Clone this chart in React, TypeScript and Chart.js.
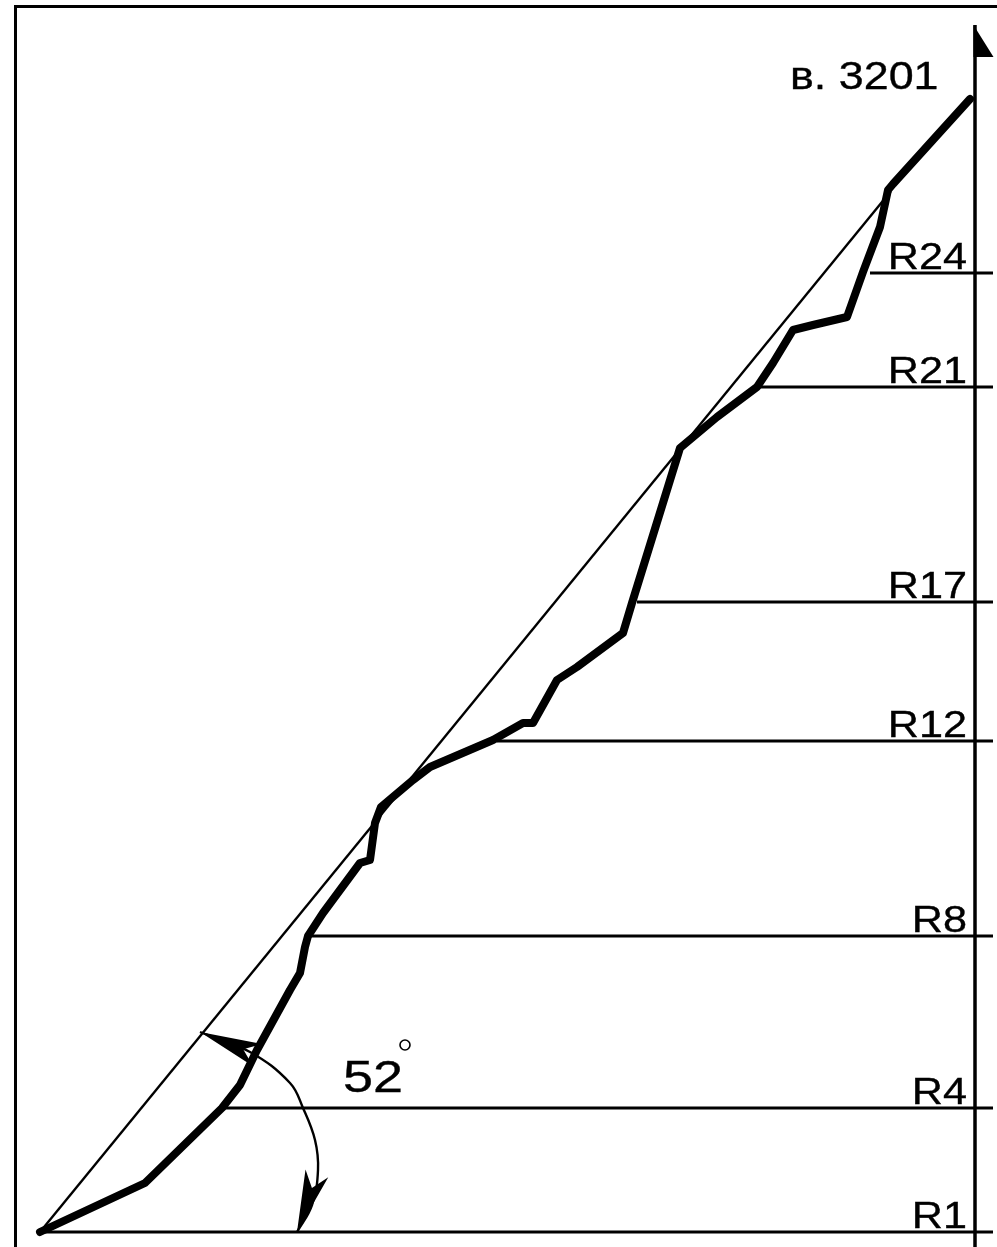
import { useEffect, useRef } from 'react';
import { Chart, registerables } from 'chart.js';

Chart.register(...registerables);

// Profile of the route (horizontal distance, height above R1)
const profileX = [0, 105, 182, 200, 217, 250, 260, 265, 268, 283, 320, 330, 335, 341, 373, 390, 453, 483, 493, 517, 537, 583, 592, 640, 677, 717, 733, 753, 773, 807, 823, 840, 848, 853, 930];
const profileY = [0, 49, 124, 147, 182, 242, 259, 285, 296, 319, 369, 372, 409, 425, 452, 465, 492, 509, 509, 552, 565, 599, 629, 784, 815, 845, 869, 902, 907, 915, 960, 1005, 1042, 1048, 1133];

// Mean slope line (52°)
const slopeX = [0, 851];
const slopeY = [0, 1041];

// Angle dimension arc
const arcX = [160, 210, 250, 263, 275, 278, 272, 257];
const arcY = [200, 180, 149, 124, 92, 62, 27, 0];

// Belay stations
const levelLabels = ['R1', 'R4', 'R8', 'R12', 'R17', 'R21', 'R24'];
const levelHeights = [0, 124, 296, 491, 630, 845, 959];
const levelStartX = [0, 182, 270, 457, 597, 717, 830];
const levelEndX = 953;

// Vertical axis
const axisX = 935;
const axisBottom = -15;
const axisTop = 1207;

const summitLabel = 'в. 3201';
const angleLabel = '52';

const pts = (xs: number[], ys: number[]) => xs.map((x, i) => ({ x, y: ys[i] }));

export default function App() {
  const ref = useRef<HTMLCanvasElement>(null);

  useEffect(() => {
    const drawText = (ctx: any, text: string, x: number, y: number, size: number, sx: number, align: string) => {
      ctx.save();
      ctx.translate(x, y);
      ctx.scale(sx, 1);
      ctx.font = size + 'px "Liberation Sans", Arial, sans-serif';
      ctx.textAlign = align;
      ctx.textBaseline = 'alphabetic';
      ctx.lineWidth = 0.35;
      ctx.fillText(text, 0, 0);
      ctx.strokeText(text, 0, 0);
      ctx.restore();
    };

    const decor = {
      id: 'decor',
      afterDatasetsDraw(chart: any) {
        const { ctx, scales } = chart;
        const px = (v: number) => scales.x.getPixelForValue(v);
        const py = (v: number) => scales.y.getPixelForValue(v);
        ctx.save();
        ctx.strokeStyle = '#000';
        ctx.fillStyle = '#000';

        // frame
        ctx.lineWidth = 3;
        ctx.beginPath();
        ctx.moveTo(15.5, chart.height);
        ctx.lineTo(15.5, 6.5);
        ctx.lineTo(chart.width, 6.5);
        ctx.stroke();

        // axis arrow
        const ax = px(axisX) - 1.5;
        const at = py(axisTop);
        ctx.beginPath();
        ctx.moveTo(ax, at);
        ctx.lineTo(ax, at + 32);
        ctx.lineTo(ax + 20, at + 32);
        ctx.closePath();
        ctx.fill();

        // arc arrowheads
        const head = (tipI: number, backI: number) => {
          const tx = px(arcX[tipI]), ty = py(arcY[tipI]);
          const bx = px(arcX[backI]), by = py(arcY[backI]);
          let dx = tx - bx, dy = ty - by;
          const len = Math.hypot(dx, dy);
          dx /= len; dy /= len;
          const L = 62, W = 12;
          const cx = tx - dx * L, cy = ty - dy * L;
          const nx = -dy, ny = dx;
          ctx.beginPath();
          ctx.moveTo(tx, ty);
          ctx.lineTo(cx + nx * W, cy + ny * W);
          ctx.lineTo(tx - dx * L * 0.75, ty - dy * L * 0.75);
          ctx.lineTo(cx - nx * W, cy - ny * W);
          ctx.closePath();
          ctx.fill();
        };
        head(0, 1);
        head(arcX.length - 1, arcX.length - 3);

        // station labels
        levelLabels.forEach((lab, i) => {
          drawText(ctx, lab, px(927), py(levelHeights[i] + 4), 36, 1.2, 'right');
        });

        // summit label
        drawText(ctx, summitLabel, px(750), py(1143), 39, 1.15, 'left');

        // angle label
        const lx = px(303), ly = py(140);
        drawText(ctx, angleLabel, lx, ly, 45, 1.2, 'left');
        ctx.lineWidth = 1.6;
        ctx.beginPath();
        ctx.arc(lx + 62, ly - 47, 5, 0, Math.PI * 2);
        ctx.stroke();

        ctx.restore();
      },
    };

    const line = (data: any[], width: number, extra: any = {}) => ({
      data,
      showLine: true,
      borderColor: '#000',
      backgroundColor: '#000',
      borderWidth: width,
      pointRadius: 0,
      clip: false,
      ...extra,
    });

    const chart = new Chart(ref.current!, {
      type: 'scatter',
      data: {
        datasets: [
          line(pts(profileX, profileY), 8, { borderJoinStyle: 'round', borderCapStyle: 'round', label: 'profile' }),
          line(pts(slopeX, slopeY), 2.4, { label: 'slope' }),
          line(pts(arcX, arcY), 2.4, { tension: 0.4, label: 'angle' }),
          line([{ x: axisX, y: axisBottom }, { x: axisX, y: axisTop }], 3.5, { label: 'axis' }),
          ...levelLabels.map((lab, i) =>
            line([{ x: levelStartX[i], y: levelHeights[i] }, { x: levelEndX, y: levelHeights[i] }], 3, { label: lab })
          ),
        ] as any,
      },
      options: {
        animation: false,
        responsive: false,
        devicePixelRatio: 1,
        layout: { padding: 0 },
        plugins: { legend: { display: false }, tooltip: { enabled: false } },
        scales: {
          x: { type: 'linear', min: -40, max: 957, display: false },
          y: { type: 'linear', min: -15, max: 1232, display: false },
        },
      },
      plugins: [decor],
    });
    return () => chart.destroy();
  }, []);

  return (
    <div style={{ position: 'fixed', left: 0, top: 0, width: 997, height: 1247, background: '#fff' }}>
      <canvas ref={ref} width={997} height={1247} style={{ display: 'block', width: 997, height: 1247 }} />
    </div>
  );
}
